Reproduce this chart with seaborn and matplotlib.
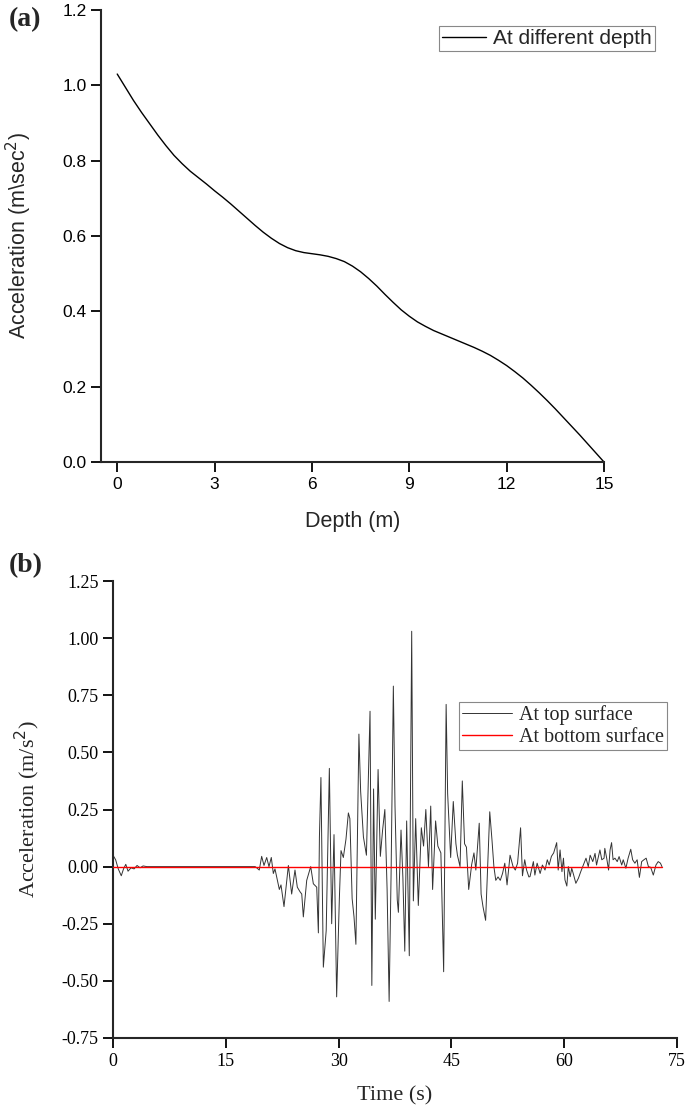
import numpy as np
import pandas as pd
import seaborn as sns
import matplotlib
matplotlib.use("Agg")
import matplotlib.pyplot as plt

# (a) acceleration against depth, read every 0.25 m
depth = [0, 0.25, 0.5, 0.75, 1, 1.25, 1.5, 1.75, 2, 2.25, 2.5, 2.75, 3, 3.25, 3.5, 3.75,
         4, 4.25, 4.5, 4.75, 5, 5.25, 5.5, 5.75, 6, 6.25, 6.5, 6.75, 7, 7.25, 7.5, 7.75,
         8, 8.25, 8.5, 8.75, 9, 9.25, 9.5, 9.75, 10, 10.25, 10.5, 10.75, 11, 11.25, 11.5,
         11.75, 12, 12.25, 12.5, 12.75, 13, 13.25, 13.5, 13.75, 14, 14.25, 14.5, 14.75, 15]
acc_depth = [1.03, 0.995, 0.96, 0.928, 0.898, 0.868, 0.84, 0.814, 0.792, 0.772, 0.755, 0.738,
             0.72, 0.703, 0.685, 0.666, 0.647, 0.628, 0.61, 0.594, 0.58, 0.569, 0.561, 0.556,
             0.553, 0.55, 0.546, 0.54, 0.532, 0.52, 0.505, 0.487, 0.467, 0.445, 0.424, 0.404,
             0.387, 0.372, 0.36, 0.349, 0.34, 0.331, 0.322, 0.313, 0.304, 0.294, 0.283, 0.27,
             0.256, 0.24, 0.223, 0.204, 0.184, 0.163, 0.141, 0.118, 0.095, 0.072, 0.048, 0.024, 0.0]

# (b) time history at the top surface
time_top = [0.0, 0.35, 0.7, 1.1, 1.4, 1.7, 2.0, 2.4, 2.8, 3.2, 3.6, 4.0, 4.5, 5.0,
            18.9, 19.1, 19.45, 19.77, 20.08, 20.44, 20.74, 21.05, 21.32, 21.54, 21.77,
            22.12, 22.34, 22.74, 23.32, 23.76, 24.2, 24.51, 24.87, 25.1, 25.31, 25.76,
            26.29, 26.64, 27.09, 27.31, 27.45, 27.65, 27.97, 28.35,
            28.77, 29.08, 29.39, 29.74, 30.1, 30.32, 30.63, 30.98, 31.3, 31.5, 31.8,
            32.05, 32.3, 32.7, 32.93, 33.3, 33.7, 34.18, 34.42, 34.65, 34.88, 35.25,
            35.55, 35.85, 36.15, 36.45, 36.72, 36.98, 37.28,
            37.5, 37.8, 37.95, 38.3, 38.55, 38.8, 39.05, 39.4, 39.72, 39.94, 40.25,
            40.6, 41.0, 41.3, 41.6, 41.95, 42.25, 42.5, 42.9, 43.2, 43.6, 43.97, 44.3,
            44.5, 44.9, 45.25, 45.6, 45.8, 46.15, 46.45,
            46.75, 47.0, 47.3, 47.7, 48.0, 48.25, 48.7, 48.95, 49.2, 49.55, 50.1, 50.4,
            50.65, 50.9, 51.2, 51.5, 51.8, 52.1, 52.4, 52.8, 53.2, 53.5, 53.8, 54.2,
            54.45, 54.75, 55.0, 55.3,
            55.45, 55.9, 56.1, 56.4, 56.8, 57.1, 57.45, 57.75, 58.0, 58.3, 58.6, 59.0,
            59.2, 59.45, 59.7, 59.9, 60.1, 60.35, 60.55, 60.8, 61.0, 61.2, 61.55, 61.9,
            62.2, 62.55, 62.9, 63.2, 63.45, 63.8, 64.1, 64.3, 64.75, 65.0, 65.3,
            65.4, 65.65, 65.9, 66.1, 66.3, 66.5, 66.75, 67.05, 67.3, 67.65, 67.85, 68.2,
            68.5, 68.85, 69.1, 69.4, 69.7, 70.0, 70.3, 70.6, 70.9, 71.2, 71.5, 71.85,
            72.2, 72.5, 72.8, 73.0]
acc_top = [0.05, 0.03, -0.01, -0.04, -0.01, 0.01, -0.02, -0.005, -0.01, 0.005, -0.005, 0.003, 0.0, 0.0,
           0.0, -0.005, -0.015, 0.045, 0.005, 0.04, 0.0, 0.04, -0.03, -0.01, -0.045,
           -0.1, -0.08, -0.175, 0.005, -0.12, -0.015, -0.09, -0.11, -0.12, -0.22, -0.06,
           0.0, -0.075, -0.09, -0.29, 0.13, 0.39, -0.44, -0.28,
           0.43, -0.25, 0.14, -0.57, -0.14, 0.07, 0.04, 0.12, 0.235, 0.21, -0.14,
           -0.22, -0.34, 0.58, 0.33, 0.13, 0.05, 0.68, -0.52, 0.34, -0.23, 0.425,
           0.045, 0.16, 0.25, -0.1, -0.59, -0.03, 0.79,
           0.265, -0.145, -0.2, 0.16, -0.05, -0.37, 0.2, -0.39, 1.03, -0.15, 0.21,
           -0.17, 0.17, 0.09, 0.25, 0.0, 0.265, -0.1, 0.2, 0.09, 0.06, -0.46, 0.71,
           0.32, 0.04, 0.285, 0.1, 0.05, 0.0, 0.375,
           0.1, 0.085, -0.1, 0.01, 0.06, -0.015, 0.19, -0.12, -0.175, -0.235, 0.24, 0.115,
           0.0, -0.06, -0.045, -0.06, -0.03, 0.015, -0.08, 0.05, 0.0, -0.015, 0.015, 0.17,
           -0.04, 0.03, -0.015, -0.045,
           -0.044, 0.022, -0.037, 0.015, -0.03, 0.007, -0.015, 0.03, 0.007, 0.045, 0.06, 0.105,
           -0.015, 0.073, -0.022, 0.037, -0.058, -0.085, 0.0, -0.044, -0.007, -0.03, -0.073, -0.05,
           -0.022, 0.007, 0.037, 0.0, 0.05, 0.022, 0.058, 0.007, 0.073, 0.03, 0.037,
           0.08, 0.037, -0.015, 0.073, 0.105, 0.03, 0.037, 0.022, 0.044, 0.007, 0.03, -0.007,
           0.037, 0.076, 0.03, 0.015, 0.03, -0.047, 0.022, 0.03, 0.037, 0.0, -0.003, -0.037,
           0.007, 0.022, 0.015, 0.0]

# bottom surface record
time_bottom = [0.0, 73.0]
acc_bottom = [0.0, 0.0]

sns.set_theme(style="ticks")

fig = plt.figure(figsize=(6.85, 11.06), dpi=100)
ax1 = fig.add_axes([101 / 685, 1 - 462 / 1106, 503 / 685, 452 / 1106])
ax2 = fig.add_axes([113 / 685, 1 - 1038 / 1106, 564 / 685, 457 / 1106])

# ---- panel (a)
sans = ["Liberation Sans", "DejaVu Sans"]
df_a = pd.DataFrame({"Depth": depth, "Acc": acc_depth})
sns.lineplot(data=df_a, x="Depth", y="Acc", ax=ax1, color="black", lw=1.0,
             label="At different depth", estimator=None, sort=False)
ax1.set_xlim(-0.5, 15)
ax1.set_ylim(0, 1.2)
ax1.set_xticks([0, 3, 6, 9, 12, 15])
ax1.set_yticks(np.arange(0, 1.21, 0.2))
ax1.set_yticklabels([f"{v:.1f}" for v in np.arange(0, 1.21, 0.2)])
ax1.set_xlabel("Depth (m)", fontsize=15.5, family=sans, labelpad=14)
ax1.set_ylabel("Acceleration (m\\sec$^{2}$)", fontsize=15.5, family=sans, labelpad=20)
for lab in ax1.get_xticklabels() + ax1.get_yticklabels():
    lab.set_family(sans)
    lab.set_fontsize(12.5)
leg1 = ax1.legend(loc="upper right", bbox_to_anchor=(655 / 685, 1 - 26 / 1106),
                  bbox_transform=fig.transFigure, fancybox=False, framealpha=1,
                  edgecolor="#888888", prop={"family": sans, "size": 15},
                  handlelength=2.1, borderpad=0.15, handletextpad=0.35,
                  borderaxespad=0)
leg1.get_frame().set_linewidth(0.8)

# ---- panel (b)
serif = ["Liberation Serif", "DejaVu Serif"]
df_top = pd.DataFrame({"Time": time_top, "Acc": acc_top})
df_bot = pd.DataFrame({"Time": time_bottom, "Acc": acc_bottom})
sns.lineplot(data=df_top, x="Time", y="Acc", ax=ax2, color="#333333", lw=0.7,
             label="At top surface", estimator=None, sort=False, zorder=2)
sns.lineplot(data=df_bot, x="Time", y="Acc", ax=ax2, color="#ff0000", lw=1.0,
             label="At bottom surface", estimator=None, sort=False, zorder=3)
ax2.set_xlim(0, 75)
ax2.set_ylim(-0.75, 1.25)
ax2.set_xticks(np.arange(0, 76, 15))
yt = np.arange(-0.75, 1.26, 0.25)
ax2.set_yticks(yt)
ax2.set_yticklabels([f"{v:.2f}" for v in yt])
ax2.set_xlabel("Time (s)", fontsize=16, family=serif, labelpad=12)
ax2.set_ylabel("Acceleration (m/s$^{2}$)", fontsize=16, family=serif, labelpad=14)
for lab in ax2.get_xticklabels() + ax2.get_yticklabels():
    lab.set_family(serif)
    lab.set_fontsize(13)
leg2 = ax2.legend(loc="upper right", bbox_to_anchor=(667 / 685, 1 - 702 / 1106),
                  bbox_transform=fig.transFigure, fancybox=False, framealpha=1,
                  edgecolor="#888888", prop={"family": serif, "size": 14.5},
                  handlelength=2.5, borderpad=0.15, handletextpad=0.35, labelspacing=0.15,
                  borderaxespad=0)
leg2.get_frame().set_linewidth(0.8)

for ax in (ax1, ax2):
    sns.despine(ax=ax)
    ax.spines["left"].set_linewidth(1.5)
    ax.spines["bottom"].set_linewidth(1.5)
    ax.tick_params(direction="out", length=7, width=1.3, colors="black")
    ax.grid(False)

fig.text(9 / 685, 1 - 20 / 1106, "(a)", fontsize=20, fontweight="bold",
         family=serif, va="center", ha="left")
fig.text(9 / 685, 1 - 566 / 1106, "(b)", fontsize=20, fontweight="bold",
         family=serif, va="center", ha="left")

fig.savefig("out.png", dpi=100)
